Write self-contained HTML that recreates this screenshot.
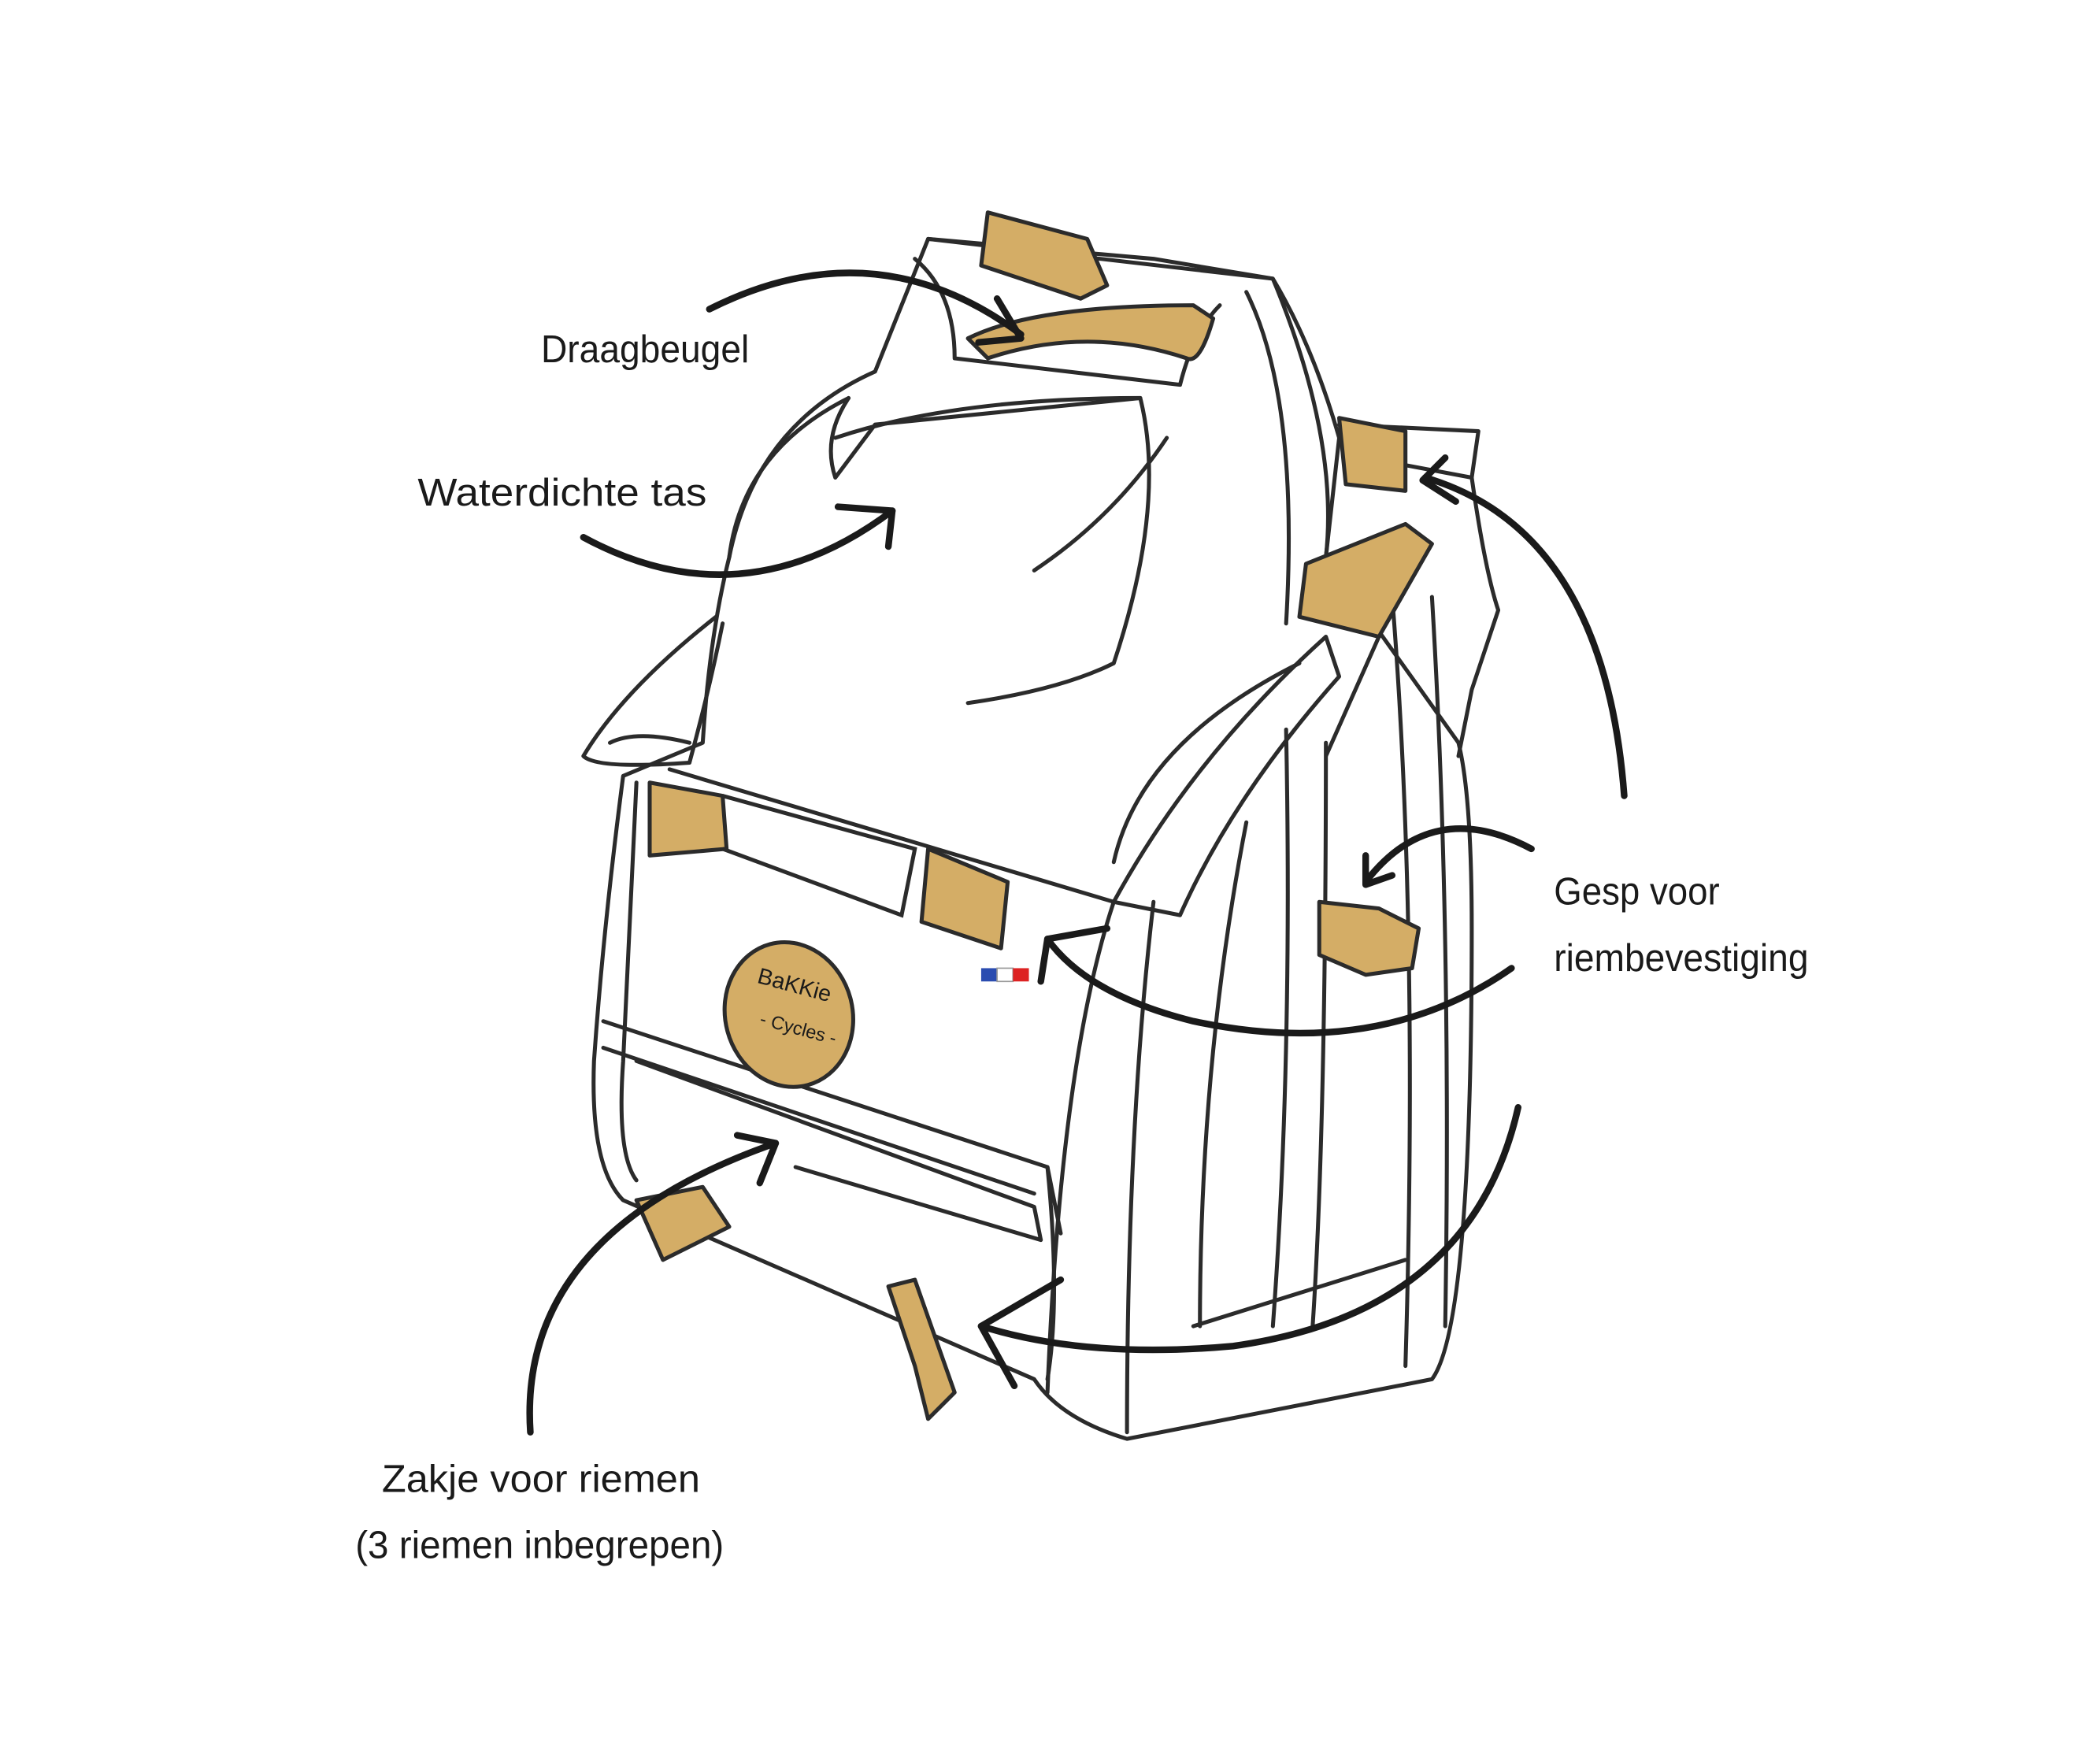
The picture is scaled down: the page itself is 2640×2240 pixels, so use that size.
<!DOCTYPE html>
<html><head><meta charset="utf-8"><style>
html,body{margin:0;padding:0;background:#fff;}
svg{display:block;}
text{font-family:"Liberation Sans",sans-serif;fill:#1a1a1a;}
</style></head><body>
<svg width="2640" height="2240" viewBox="0 0 1568 1330" xmlns="http://www.w3.org/2000/svg">
<rect width="1568" height="1330" fill="#fff"/>
<g fill="none" stroke="#2b2b2b" stroke-width="3" stroke-linejoin="round" stroke-linecap="round">
<path d="M470 585 Q455 700 448 800 Q445 880 470 905 L780 1040 Q800 1070 850 1085 L1080 1040 Q1110 1000 1110 700 Q1110 600 1100 560 L1000 420 Q1010 330 960 210 L870 195 L700 180 Q680 230 660 280 Q570 320 550 420 Q535 480 530 560 Z" fill="#fff"/>
<path d="M480 590 L470 800 Q465 870 480 890"/>
<path d="M455 770 L790 880 L800 930"/>
<path d="M455 790 L780 900"/>
<path d="M480 800 L780 910 L785 935 L600 880"/>
<path d="M505 580 L840 680"/>
<path d="M790 880 Q800 980 790 1040"/>
<path d="M840 680 Q800 800 790 1050"/>
<path d="M870 680 Q850 850 850 1080"/>
<path d="M940 620 Q905 800 905 1000"/>
<path d="M970 550 Q975 800 960 1000"/>
<path d="M1000 560 Q1000 850 990 1000"/>
<path d="M1050 450 Q1070 700 1060 1030"/>
<path d="M1080 450 Q1095 700 1090 1000"/>
<path d="M900 1000 L1060 950"/>
<path d="M840 680 Q900 570 1000 480 L1010 510 Q930 600 890 690 Z"/>
<path d="M840 650 Q860 560 980 500"/>
<path d="M700 180 L960 210 Q990 260 1010 330 L1000 420"/>
<path d="M690 195 Q720 220 720 270 L890 290 Q900 250 920 230"/>
<path d="M640 300 Q620 330 630 360 L660 320 L860 300"/>
<path d="M630 330 Q720 300 860 300 Q880 380 840 500 Q800 520 730 530"/>
<path d="M780 430 Q840 390 880 330"/>
<path d="M940 220 Q980 300 970 470"/>
<path d="M550 420 Q560 340 640 300"/>
<path d="M540 465 Q470 520 440 570 Q450 580 520 575 Q535 520 545 470"/>
<path d="M460 560 Q480 550 520 560"/>
<path d="M1010 320 L1115 325 L1110 360 L1030 345"/>
<path d="M1110 360 Q1120 430 1130 460 L1110 520 L1100 570"/>
</g>
<g fill="#d4ad66" stroke="#2b2b2b" stroke-width="3" stroke-linejoin="round">
<path d="M745 160 L820 180 L835 215 L815 225 L740 200 Z"/>
<path d="M730 255 Q780 230 900 230 L915 240 Q905 275 895 270 Q820 245 745 270 Z"/>
<path d="M490 590 L545 600 L548 640 L490 645 Z"/>
<path d="M700 640 L760 665 L755 715 L695 695 Z"/>
<path d="M985 425 L1060 395 L1080 410 L1040 480 L980 465 Z"/>
<path d="M1010 315 L1060 325 L1060 370 L1015 365 Z"/>
<path d="M995 680 L1040 685 L1070 700 L1065 730 L1030 735 L995 720 Z"/>
<path d="M480 905 L530 895 L550 925 L500 950 Z"/>
<path d="M670 970 L690 965 L720 1050 L700 1070 L690 1030 Z"/>
<ellipse cx="595" cy="765" rx="48" ry="55" transform="rotate(-15 595 765)"/>
</g>
<g fill="none" stroke="#2b2b2b" stroke-width="3">
<path d="M545 600 L690 640 L680 690 L545 640"/>
<path d="M1040 480 L1000 570"/>
</g>
<text x="565" y="748" font-size="17" fill="#2b2b2b" transform="rotate(15 595 765)">BaKKie</text>
<text x="575" y="778" font-size="14" fill="#2b2b2b" transform="rotate(15 595 765)">- Cycles -</text>
<rect x="740" y="730" width="12" height="10" fill="#2a4cb0"/><rect x="752" y="730" width="12" height="10" fill="#fff" stroke="#999"/><rect x="764" y="730" width="12" height="10" fill="#d22"/>
<g fill="none" stroke="#1a1a1a" stroke-width="5" stroke-linecap="round" stroke-linejoin="round">
<path d="M535 233 Q660 170 770 252"/>
<path d="M752 225 L770 255 L738 258"/>
<path d="M440 405 Q560 470 673 385"/>
<path d="M632 382 L673 385 L670 412"/>
<path d="M1225 600 Q1210 400 1075 360"/>
<path d="M1090 345 L1073 362 L1098 378"/>
<path d="M1155 640 Q1080 600 1030 665"/>
<path d="M1030 645 L1030 667 L1050 660"/>
<path d="M1140 730 Q1040 800 900 770 Q820 750 790 708"/>
<path d="M785 740 L790 708 L835 700"/>
<path d="M1145 835 Q1110 990 930 1015 Q820 1025 740 1000"/>
<path d="M800 965 L740 1000 L765 1045"/>
<path d="M400 1080 Q390 930 585 862"/>
<path d="M556 856 L585 862 L573 892"/>
</g>
<text x="408" y="273" font-size="29" textLength="157" lengthAdjust="spacingAndGlyphs">Draagbeugel</text>
<text x="315" y="381" font-size="29" textLength="218" lengthAdjust="spacingAndGlyphs">Waterdichte tas</text>
<text x="1172" y="682" font-size="29" textLength="125" lengthAdjust="spacingAndGlyphs">Gesp voor</text>
<text x="1172" y="732" font-size="29" textLength="192" lengthAdjust="spacingAndGlyphs">riembevestiging</text>
<text x="288" y="1125" font-size="29" textLength="240" lengthAdjust="spacingAndGlyphs">Zakje voor riemen</text>
<text x="268" y="1175" font-size="29" textLength="278" lengthAdjust="spacingAndGlyphs">(3 riemen inbegrepen)</text>
</svg>
</body></html>
